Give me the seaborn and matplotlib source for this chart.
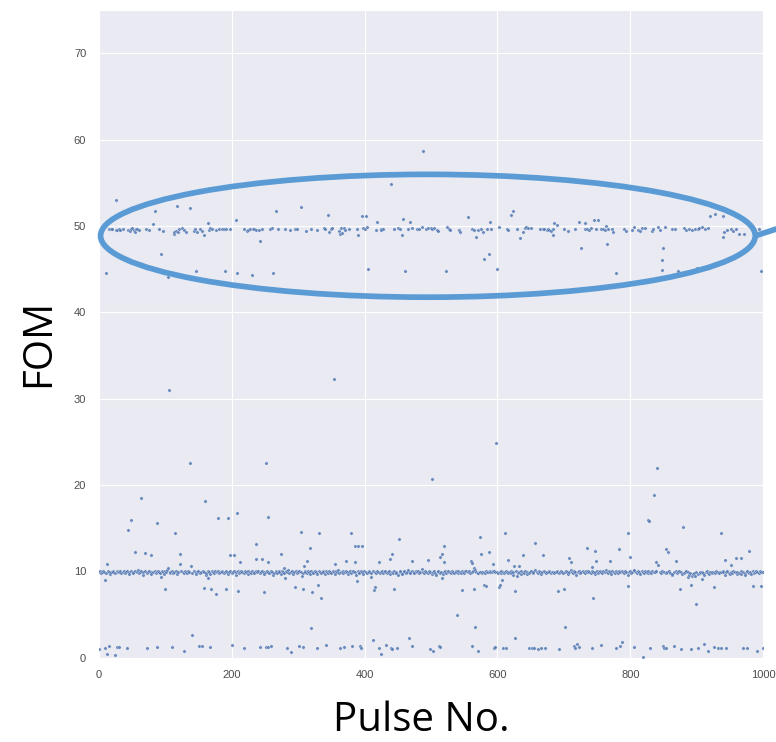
import matplotlib
matplotlib.use("Agg")
import matplotlib.pyplot as plt
import pandas as pd
import seaborn as sns
from matplotlib.patches import Ellipse

sns.set_style("darkgrid")
plt.rcParams["font.family"] = ["Liberation Sans", "DejaVu Sans"]

# Main cluster near FOM = 50
upper_band = [
    (16, 49.6), (18, 49.6), (20, 49.6), (26, 49.5), (27, 49.5), (30, 49.7), (32, 49.5), (37, 49.6),
    (44, 49.5), (47, 49.4), (48, 49.6), (50, 49.8), (53, 49.5), (54, 49.3), (56, 49.6), (58, 49.6),
    (60, 49.5), (71, 49.7), (75, 49.5), (81, 50.2), (90, 49.6), (96, 49.4), (113, 49.1), (114, 49.3),
    (117, 49.4), (119, 49.3), (121, 49.6), (126, 49.8), (129, 49.5), (132, 49.3), (143, 49.4), (145, 49.6),
    (148, 49.3), (153, 49.7), (156, 49.4), (159, 49.0), (164, 50.3), (166, 49.5), (168, 49.8), (171, 49.6),
    (176, 49.5), (181, 49.6), (185, 49.6), (188, 49.6), (191, 49.7), (198, 49.6), (207, 50.7), (218, 49.6),
    (223, 49.4), (225, 49.5), (228, 49.6), (232, 49.6), (234, 49.7), (236, 49.5), (241, 49.5), (246, 49.7),
    (257, 49.7), (260, 49.8), (270, 49.6), (280, 49.6), (288, 49.5), (295, 49.7), (298, 49.6), (312, 49.4),
    (320, 49.7), (329, 49.5), (339, 49.8), (341, 49.6), (347, 49.3), (349, 49.6), (351, 49.8), (361, 49.4),
    (363, 49.1), (364, 49.8), (366, 49.2), (369, 49.8), (371, 49.5), (377, 49.7), (389, 49.7), (390, 49.0),
    (398, 49.8), (401, 49.6), (404, 49.9), (417, 49.5), (418, 50.5), (424, 49.6), (425, 49.5), (427, 49.7),
    (444, 49.7), (451, 49.8), (453, 49.6), (456, 49.0), (458, 50.8), (465, 49.6), (469, 50.5), (472, 49.8),
    (479, 49.6), (482, 49.6), (487, 49.9), (492, 49.7), (496, 49.8), (500, 49.8), (502, 49.7), (504, 49.8),
    (509, 49.5), (510, 49.4), (524, 49.9), (527, 49.7), (529, 49.5), (542, 49.5), (543, 49.3), (562, 49.6),
    (565, 49.5), (568, 48.7), (571, 49.5), (575, 49.6), (578, 49.3), (584, 49.6), (589, 50.4), (590, 49.6),
    (603, 49.9), (614, 49.7), (616, 49.5), (630, 49.6), (634, 48.6), (639, 49.3), (642, 49.8), (643, 49.9),
    (646, 49.8), (651, 49.8), (664, 49.7), (668, 49.7), (670, 49.6), (674, 49.5), (676, 49.6), (678, 49.5),
    (680, 49.4), (683, 49.7), (684, 49.0), (685, 50.3), (690, 50.1), (700, 49.6), (706, 49.4), (716, 49.6),
    (723, 50.5), (731, 50.3), (732, 49.7), (734, 49.6), (738, 49.5), (741, 49.8), (745, 50.7), (748, 49.6),
    (751, 50.7), (755, 49.7), (758, 49.6), (762, 49.5), (763, 50.0), (766, 49.7), (772, 49.6), (774, 49.3),
    (790, 49.6), (793, 49.4), (802, 49.5), (805, 49.9), (812, 49.5), (815, 49.4), (818, 49.8), (822, 49.8),
    (832, 49.4), (834, 49.7), (842, 49.9), (845, 49.5), (852, 49.9), (863, 49.7), (867, 49.7), (881, 49.8),
    (883, 49.5), (888, 49.7), (893, 49.5), (897, 49.7), (901, 49.7), (903, 49.8), (907, 49.9), (912, 49.7),
    (917, 49.8), (939, 48.7), (941, 49.3), (945, 49.5), (951, 49.7), (954, 49.4), (959, 49.6), (963, 49.1),
    (971, 49.1), (993, 49.7),
]

# Scattered values around the upper cluster
upper_scatter = [
    (11, 44.5), (26, 53.0), (85, 51.7), (94, 46.8), (102, 44.7), (104, 44.1), (118, 52.3), (137, 52.1),
    (146, 44.8), (190, 44.8), (208, 44.6), (230, 44.3), (242, 48.3), (262, 44.6), (266, 51.7), (304, 52.2),
    (345, 51.3), (396, 51.1), (402, 51.1), (405, 45.0), (440, 54.8), (461, 44.8), (488, 58.7), (522, 44.8),
    (556, 51.0), (580, 46.2), (587, 46.8), (600, 45.0), (620, 51.3), (623, 51.7), (725, 47.5), (765, 47.9),
    (779, 44.6), (847, 44.9), (847, 46.0), (849, 47.5), (872, 44.8), (900, 45.1), (919, 51.2), (928, 51.4),
    (940, 51.1), (963, 46.9), (996, 44.8),
]

# Main cluster near FOM = 10
lower_band = [
    (0, 9.9), (2, 10.0), (4, 9.8), (5, 9.9), (7, 10.1), (8, 9.9), (11, 9.8), (14, 10.0), (15, 9.9), (17, 9.7),
    (19, 9.9), (21, 10.1), (22, 9.9), (24, 9.8), (28, 10.0), (29, 9.9), (31, 9.9), (32, 10.1), (34, 9.8), (36, 9.9),
    (38, 10.0), (39, 9.8), (41, 9.9), (42, 10.1), (45, 9.9), (46, 9.7), (48, 10.0), (51, 9.9), (52, 9.8), (55, 10.0),
    (57, 9.9), (59, 10.2), (61, 9.8), (62, 9.9), (64, 10.0), (66, 9.6), (67, 9.9), (70, 10.0), (73, 9.8), (74, 9.9),
    (76, 10.1), (78, 9.9), (79, 9.7), (82, 9.9), (84, 10.0), (86, 9.8), (87, 9.9), (89, 10.1), (91, 9.9), (92, 9.8),
    (95, 10.0), (97, 9.9), (98, 9.7), (100, 10.0), (101, 9.9), (103, 10.2), (107, 9.8), (108, 9.9), (111, 10.0), (112, 9.8),
    (114, 9.9), (116, 10.1), (118, 9.7), (120, 9.9), (124, 10.0), (127, 9.9), (128, 9.8), (130, 10.0), (131, 9.9), (133, 9.8),
    (135, 10.1), (136, 9.9), (141, 9.8), (144, 10.0), (146, 9.9), (147, 9.7), (149, 9.9), (150, 10.0), (152, 9.8), (154, 9.9),
    (157, 10.1), (159, 9.9), (161, 9.6), (162, 9.8), (164, 10.0), (166, 9.9), (168, 9.7), (170, 10.0), (172, 9.9), (173, 9.8),
    (175, 10.0), (178, 9.9), (179, 10.1), (181, 9.8), (183, 9.9), (185, 10.0), (186, 9.9), (188, 9.8), (190, 9.9), (192, 10.1),
    (193, 9.9), (195, 9.7), (196, 9.9), (198, 10.0), (201, 9.8), (202, 9.9), (204, 10.0), (206, 9.6), (207, 9.9), (209, 10.1),
    (211, 9.8), (213, 9.9), (214, 10.0), (216, 9.9), (219, 9.8), (220, 10.0), (222, 9.9), (224, 9.7), (225, 10.1), (227, 9.9),
    (229, 9.8), (231, 10.0), (233, 9.9), (234, 9.8), (236, 10.0), (238, 9.9), (240, 10.1), (243, 9.8), (244, 9.9), (245, 10.0),
    (248, 9.9), (249, 9.7), (251, 9.9), (253, 10.1), (254, 9.9), (256, 9.8), (259, 10.0), (261, 9.9), (262, 9.6), (264, 9.8),
    (266, 10.0), (267, 9.9), (269, 9.8), (271, 10.1), (272, 9.9), (274, 9.7), (276, 10.0), (277, 9.9), (279, 9.8), (282, 10.0),
    (284, 9.9), (285, 10.2), (287, 9.8), (290, 9.9), (291, 10.0), (292, 9.7), (294, 9.9), (297, 10.1), (299, 9.8), (300, 9.9),
    (302, 10.0), (304, 9.9), (306, 9.5), (308, 9.8), (310, 10.0), (311, 9.9), (313, 9.8), (315, 10.1), (316, 9.9), (318, 9.7),
    (319, 10.0), (322, 9.9), (323, 9.8), (325, 10.0), (327, 9.9), (328, 9.7), (332, 10.1), (333, 9.9), (335, 9.8), (337, 10.0),
    (338, 9.9), (340, 9.7), (342, 10.0), (343, 9.9), (345, 9.8), (346, 10.1), (348, 9.9), (350, 9.8), (352, 10.0), (354, 9.9),
    (355, 9.7), (357, 10.0), (358, 9.9), (360, 10.2), (362, 9.8), (365, 9.9), (367, 10.0), (368, 9.8), (370, 9.9), (372, 10.1),
    (373, 9.9), (375, 9.7), (376, 9.9), (378, 10.0), (380, 9.8), (382, 9.9), (383, 10.0), (386, 9.9), (387, 9.6), (390, 10.0),
    (391, 9.9), (392, 9.8), (394, 10.0), (396, 9.9), (398, 9.7), (399, 10.1), (402, 9.9), (403, 9.8), (406, 10.0), (407, 9.9),
    (409, 9.4), (410, 9.8), (412, 10.0), (416, 9.9), (417, 9.8), (419, 10.0), (420, 9.9), (423, 9.8), (425, 9.9), (426, 10.0),
    (428, 9.8), (430, 9.9), (431, 10.1), (434, 9.8), (435, 9.9), (437, 10.0), (439, 9.7), (442, 9.9), (443, 9.8), (445, 10.1),
    (447, 9.9), (448, 9.8), (450, 9.6), (453, 9.9), (454, 10.0), (456, 9.8), (457, 9.7), (459, 9.9), (460, 10.0), (463, 9.8),
    (464, 9.9), (466, 10.2), (468, 9.9), (469, 9.8), (472, 10.0), (474, 9.9), (475, 9.8), (477, 10.0), (479, 9.9), (481, 10.1),
    (482, 9.8), (484, 9.9), (486, 10.3), (488, 9.9), (489, 9.8), (491, 10.0), (493, 9.9), (495, 9.8), (497, 10.0), (499, 9.9),
    (502, 9.7), (503, 9.9), (505, 10.0), (506, 9.8), (508, 9.6), (510, 9.9), (511, 10.0), (514, 9.8), (515, 9.9), (518, 9.7),
    (520, 9.9), (521, 10.0), (523, 9.8), (525, 9.9), (526, 10.0), (528, 9.9), (530, 9.8), (531, 10.0), (533, 9.9), (535, 9.8),
    (537, 10.0), (538, 9.9), (540, 9.8), (541, 10.1), (543, 9.9), (545, 9.8), (547, 10.0), (548, 9.9), (550, 9.8), (551, 10.0),
    (553, 10.0), (555, 9.9), (557, 10.1), (558, 9.8), (561, 9.9), (563, 10.0), (564, 10.4), (566, 10.2), (568, 9.9), (570, 9.8),
    (571, 9.8), (573, 9.9), (574, 9.9), (576, 9.8), (577, 9.9), (579, 9.9), (581, 9.8), (583, 10.0), (584, 9.9), (586, 9.9),
    (588, 10.0), (589, 9.9), (591, 9.9), (593, 10.0), (595, 10.0), (597, 9.9), (599, 9.9), (601, 9.8), (604, 9.9), (605, 9.8),
    (606, 10.0), (608, 9.9), (610, 9.8), (611, 9.9), (613, 10.0), (614, 9.9), (616, 9.8), (618, 9.9), (620, 10.1), (621, 9.8),
    (623, 9.6), (624, 9.9), (628, 10.0), (629, 9.5), (631, 9.8), (633, 9.9), (635, 10.0), (636, 9.7), (638, 9.9), (640, 9.8),
    (641, 10.0), (644, 9.9), (645, 9.7), (647, 9.8), (649, 9.9), (650, 10.1), (653, 9.8), (654, 9.9), (657, 10.2), (659, 9.9),
    (661, 9.8), (662, 10.0), (664, 9.9), (666, 9.7), (667, 9.9), (670, 10.0), (672, 9.9), (673, 9.8), (675, 9.9), (677, 10.0),
    (678, 9.9), (680, 9.8), (682, 9.9), (684, 9.9), (685, 9.8), (687, 9.9), (689, 10.0), (690, 9.9), (692, 9.8), (694, 9.9),
    (696, 10.0), (697, 9.9), (699, 9.8), (701, 9.9), (703, 10.0), (705, 9.9), (706, 9.7), (708, 9.9), (710, 10.2), (712, 9.9),
    (713, 9.8), (715, 10.0), (717, 9.9), (718, 9.6), (721, 9.9), (723, 10.0), (724, 9.8), (726, 9.9), (728, 10.1), (730, 9.9),
    (731, 9.8), (733, 10.0), (735, 9.9), (736, 10.0), (738, 9.9), (740, 9.8), (742, 10.0), (744, 9.9), (746, 9.7), (747, 9.9),
    (749, 10.0), (751, 9.8), (752, 9.9), (754, 10.1), (756, 9.9), (757, 9.8), (759, 10.0), (761, 9.9), (763, 10.2), (765, 9.9),
    (766, 9.8), (768, 10.0), (770, 9.9), (771, 9.7), (773, 10.0), (775, 9.9), (777, 9.8), (779, 10.0), (780, 9.9), (782, 9.8),
    (783, 10.0), (785, 9.9), (787, 10.1), (789, 9.9), (791, 9.8), (792, 10.0), (794, 9.9), (796, 9.6), (798, 9.9), (800, 10.0),
    (801, 9.8), (803, 9.9), (805, 10.1), (806, 10.2), (808, 9.9), (810, 9.8), (812, 10.0), (813, 9.9), (815, 9.7), (817, 10.0),
    (819, 9.9), (820, 9.8), (822, 10.0), (824, 9.9), (826, 9.8), (827, 10.0), (829, 9.9), (831, 9.8), (833, 10.0), (835, 9.9),
    (837, 9.9), (839, 10.0), (844, 9.9), (846, 9.8), (848, 10.0), (851, 9.9), (853, 9.8), (855, 9.9), (858, 10.0), (860, 9.8),
    (862, 9.6), (863, 9.7), (866, 9.9), (868, 10.0), (870, 9.8), (872, 9.9), (873, 10.0), (876, 9.9), (877, 9.7), (880, 9.8),
    (882, 9.9), (884, 10.1), (886, 9.9), (888, 9.6), (890, 9.8), (892, 9.5), (894, 9.7), (896, 9.8), (899, 9.9), (902, 9.7),
    (904, 9.8), (905, 9.9), (908, 9.9), (909, 9.8), (911, 9.6), (913, 9.9), (915, 10.0), (916, 9.8), (918, 9.7), (920, 9.9),
    (922, 9.8), (923, 9.9), (925, 9.9), (927, 9.8), (929, 10.0), (930, 9.9), (933, 9.9), (934, 9.8), (936, 9.9), (939, 10.0),
    (940, 9.9), (943, 9.6), (944, 9.9), (946, 10.1), (948, 9.8), (950, 9.7), (952, 9.9), (953, 9.8), (955, 10.0), (957, 9.9),
    (960, 9.7), (961, 9.9), (964, 9.8), (966, 10.0), (967, 9.7), (970, 9.9), (972, 9.8), (973, 9.6), (975, 9.9), (976, 10.0),
    (979, 9.8), (980, 9.9), (982, 9.7), (984, 10.0), (986, 9.8), (988, 9.9), (989, 10.1), (991, 9.9), (993, 9.8), (995, 10.0),
    (997, 9.9), (999, 9.9),
]

# Scattered values between the baseline and the upper cluster
lower_scatter = [
    (10, 9.0), (13, 10.9), (44, 14.8), (49, 15.9), (54, 12.3), (63, 18.5), (69, 12.1), (78, 11.9),
    (88, 15.6), (94, 9.4), (99, 8.0), (105, 10.4), (106, 31.0), (115, 14.4), (122, 12.0), (123, 10.9),
    (138, 22.6), (139, 10.6), (140, 2.6), (158, 8.1), (160, 18.1), (165, 9.2), (169, 8.0), (176, 7.4),
    (180, 16.2), (191, 8.0), (194, 16.2), (197, 11.9), (203, 11.9), (208, 16.8), (210, 7.7), (212, 11.1),
    (237, 13.2), (237, 11.4), (246, 11.4), (248, 7.6), (252, 22.5), (255, 16.3), (255, 11.1), (275, 12.0),
    (279, 10.4), (280, 9.2), (296, 8.2), (305, 14.6), (307, 8.0), (309, 10.6), (314, 11.2), (318, 12.7),
    (320, 3.4), (321, 7.6), (330, 8.4), (331, 14.5), (334, 6.9), (354, 32.3), (356, 10.9), (372, 11.2),
    (379, 14.5), (385, 13.0), (385, 11.1), (388, 8.9), (390, 12.9), (396, 12.9), (413, 2.1), (414, 7.9),
    (415, 8.2), (422, 11.1), (438, 11.4), (442, 12.0), (444, 8.0), (452, 13.7), (467, 2.3), (471, 11.2),
    (496, 11.3), (501, 20.7), (513, 11.7), (517, 12.0), (517, 9.2), (519, 12.9), (519, 11.1), (539, 5.0),
    (546, 7.9), (560, 11.2), (562, 11.0), (564, 8.0), (566, 3.6), (573, 14.0), (575, 12.0), (580, 8.4),
    (582, 8.3), (587, 12.3), (593, 10.9), (598, 24.9), (602, 8.2), (604, 8.4), (607, 9.0), (611, 14.4),
    (616, 11.3), (625, 10.6), (627, 7.7), (627, 2.3), (632, 10.6), (639, 11.9), (657, 13.3), (669, 11.9),
    (691, 7.7), (700, 8.0), (702, 3.6), (707, 11.6), (711, 11.1), (735, 12.7), (742, 10.5), (743, 6.9),
    (747, 12.4), (748, 11.2), (769, 11.2), (783, 12.6), (797, 14.4), (797, 8.3), (799, 11.7), (826, 15.9),
    (828, 15.8), (836, 18.9), (838, 11.1), (840, 22.0), (842, 10.8), (854, 12.6), (856, 12.3), (869, 11.2),
    (874, 8.0), (879, 15.2), (886, 9.4), (891, 8.4), (897, 9.5), (898, 6.2), (907, 9.1), (925, 8.2),
    (937, 14.4), (943, 11.3), (951, 10.8), (959, 11.6), (966, 11.6), (978, 12.4), (984, 8.3), (996, 8.3),
]

# Values close to zero
baseline = [
    (0, 1.0), (9, 1.1), (13, 0.4), (16, 1.4), (25, 0.3), (27, 1.2), (31, 1.2), (43, 1.1), (72, 1.1),
    (88, 1.2), (110, 1.2), (129, 0.8), (151, 1.4), (155, 1.4), (167, 1.2), (200, 1.5), (218, 1.1), (243, 1.2),
    (252, 1.2), (255, 1.3), (259, 1.4), (284, 1.1), (289, 0.7), (302, 1.4), (307, 1.2), (329, 1.1), (342, 1.5),
    (363, 1.1), (369, 1.2), (381, 1.4), (393, 1.4), (394, 1.1), (422, 1.1), (424, 0.4), (433, 1.5), (440, 1.1),
    (442, 1.0), (449, 1.1), (471, 1.4), (499, 1.0), (503, 0.8), (512, 1.4), (513, 1.2), (561, 1.4), (571, 0.8),
    (595, 1.1), (596, 1.2), (609, 1.1), (613, 1.1), (648, 1.1), (652, 1.1), (655, 1.1), (661, 1.0), (666, 1.1),
    (671, 1.1), (693, 1.0), (715, 1.4), (717, 1.1), (720, 1.6), (722, 1.2), (742, 1.1), (756, 1.5), (778, 1.1),
    (784, 1.4), (787, 1.8), (806, 1.2), (819, 0.1), (829, 1.1), (849, 1.4), (851, 1.1), (854, 1.1), (865, 1.4),
    (876, 1.0), (891, 1.0), (901, 1.1), (910, 1.6), (917, 0.8), (926, 1.2), (932, 1.1), (936, 1.1), (944, 1.1),
    (969, 1.1), (975, 1.1), (991, 0.8), (999, 1.1),
]

x_ticks = [0, 200, 400, 600, 800, 1000]
y_ticks = [0, 10, 20, 30, 40, 50, 60, 70]

points = upper_band + upper_scatter + lower_band + lower_scatter + baseline
df = pd.DataFrame(points, columns=["pulse", "fom"]).sort_values("pulse")

fig = plt.figure(figsize=(7.76, 7.42), dpi=100)
ax = fig.add_axes([0.1272, 0.1135, 0.8565, 0.8730])

sns.scatterplot(data=df, x="pulse", y="fom", ax=ax, s=6, color="#4C72B0",
                edgecolor="white", linewidth=0.25, alpha=0.8, zorder=3)

ax.set_xlim(0, 1000)
ax.set_ylim(0, 75)
ax.set_xticks(x_ticks)
ax.set_yticks(y_ticks)
ax.tick_params(axis="both", labelsize=8, labelcolor="0.3", length=0, pad=9)
ax.set_xlabel("")
ax.set_ylabel("")

# Highlight of the upper cluster
ring_color = "#5B9BD5"
ax.add_patch(Ellipse((495.3, 48.86), width=985, height=14.22, fill=False,
                     edgecolor=ring_color, linewidth=4.1, clip_on=False, zorder=6))
ax.plot([987.8, 1040], [48.86, 50.15], color=ring_color, linewidth=4.1,
        clip_on=False, zorder=6, solid_capstyle="butt")

label_font = dict(family=["Open Sans", "DejaVu Sans"], fontsize=29, color="black")
fig.text(421 / 776, 11 / 742, "Pulse No.", ha="center", va="baseline", **label_font)
fig.text(49 / 776, (742 - 343) / 742, "FOM", rotation=90, rotation_mode="anchor",
         ha="center", va="baseline", **label_font)

fig.savefig("out.png", dpi=100)
